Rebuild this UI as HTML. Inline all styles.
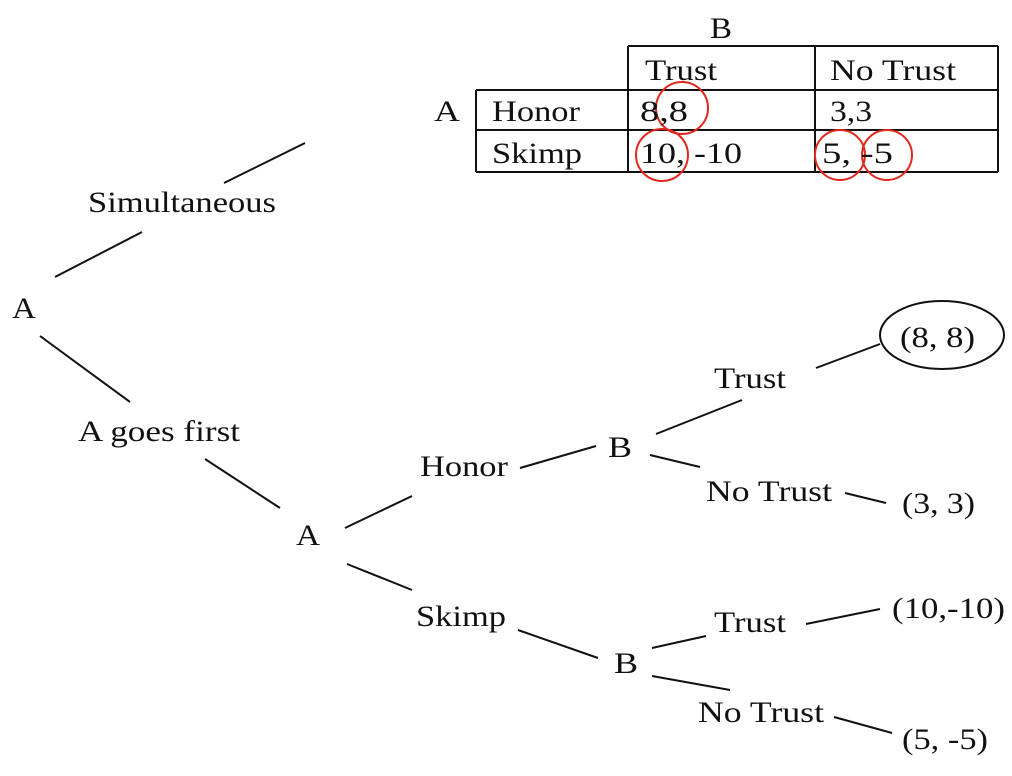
<!DOCTYPE html>
<html><head><style>body{margin:0;background:#fff}svg{display:block}</style></head><body>
<svg width="1012" height="776" xmlns="http://www.w3.org/2000/svg" font-family="Liberation Serif, serif" font-size="30" fill="#111">
<g stroke="#111" stroke-width="2" fill="none">
<line x1="628" y1="46" x2="998" y2="46"/>
<line x1="476" y1="90" x2="998" y2="90"/>
<line x1="476" y1="130" x2="998" y2="130"/>
<line x1="476" y1="172" x2="998" y2="172"/>
<line x1="476" y1="90" x2="476" y2="172"/>
<line x1="628" y1="46" x2="628" y2="172"/>
<line x1="815" y1="46" x2="815" y2="172"/>
<line x1="998" y1="46" x2="998" y2="172"/>
<line x1="224" y1="183" x2="305" y2="143"/>
<line x1="55" y1="277" x2="142" y2="232"/>
<line x1="40" y1="336" x2="130" y2="402"/>
<line x1="205" y1="459" x2="280" y2="508"/>
<line x1="345" y1="528" x2="412" y2="496"/>
<line x1="347" y1="564" x2="412" y2="590"/>
<line x1="520" y1="468" x2="596" y2="446"/>
<line x1="656" y1="434" x2="742" y2="400"/>
<line x1="650" y1="455" x2="700" y2="467"/>
<line x1="845" y1="493" x2="886" y2="503"/>
<line x1="816" y1="368" x2="880" y2="344"/>
<line x1="518" y1="630" x2="598" y2="658"/>
<line x1="652" y1="648" x2="706" y2="636"/>
<line x1="652" y1="676" x2="730" y2="690"/>
<line x1="806" y1="624" x2="880" y2="609"/>
<line x1="834" y1="717" x2="892" y2="733"/>
<ellipse cx="942" cy="335" rx="62" ry="34"/>
</g>
<g stroke="#e0281e" stroke-width="2" fill="none">
<circle cx="682" cy="108" r="26"/>
<circle cx="662" cy="155" r="26"/>
<circle cx="840" cy="155" r="25"/>
<circle cx="887" cy="155" r="25"/>
</g>
<g lengthAdjust="spacingAndGlyphs">
<text x="710" y="38" textLength="22" lengthAdjust="spacingAndGlyphs">B</text>
<text x="645" y="80" textLength="72" lengthAdjust="spacingAndGlyphs">Trust</text>
<text x="830" y="80" textLength="126" lengthAdjust="spacingAndGlyphs">No Trust</text>
<text x="434" y="121" textLength="26" lengthAdjust="spacingAndGlyphs">A</text>
<text x="492" y="121" textLength="88" lengthAdjust="spacingAndGlyphs">Honor</text>
<text x="640" y="121" textLength="48" lengthAdjust="spacingAndGlyphs">8,8</text>
<text x="830" y="121" textLength="42" lengthAdjust="spacingAndGlyphs">3,3</text>
<text x="492" y="163" textLength="90" lengthAdjust="spacingAndGlyphs">Skimp</text>
<text x="640" y="163" textLength="102" lengthAdjust="spacingAndGlyphs">10, -10</text>
<text x="822" y="163" textLength="71" lengthAdjust="spacingAndGlyphs">5, -5</text>
<text x="88" y="212" textLength="188" lengthAdjust="spacingAndGlyphs">Simultaneous</text>
<text x="12" y="318" textLength="24" lengthAdjust="spacingAndGlyphs">A</text>
<text x="78" y="441" textLength="162" lengthAdjust="spacingAndGlyphs">A goes first</text>
<text x="296" y="545" textLength="24" lengthAdjust="spacingAndGlyphs">A</text>
<text x="420" y="476" textLength="88" lengthAdjust="spacingAndGlyphs">Honor</text>
<text x="608" y="457" textLength="24" lengthAdjust="spacingAndGlyphs">B</text>
<text x="714" y="388" textLength="72" lengthAdjust="spacingAndGlyphs">Trust</text>
<text x="706" y="501" textLength="126" lengthAdjust="spacingAndGlyphs">No Trust</text>
<text x="900" y="347" textLength="75" lengthAdjust="spacingAndGlyphs">(8, 8)</text>
<text x="902" y="513" textLength="73" lengthAdjust="spacingAndGlyphs">(3, 3)</text>
<text x="416" y="626" textLength="90" lengthAdjust="spacingAndGlyphs">Skimp</text>
<text x="614" y="673" textLength="24" lengthAdjust="spacingAndGlyphs">B</text>
<text x="714" y="632" textLength="72" lengthAdjust="spacingAndGlyphs">Trust</text>
<text x="698" y="722" textLength="126" lengthAdjust="spacingAndGlyphs">No Trust</text>
<text x="892" y="618" textLength="113" lengthAdjust="spacingAndGlyphs">(10,-10)</text>
<text x="902" y="749" textLength="86" lengthAdjust="spacingAndGlyphs">(5, -5)</text>
</g>
</svg>
</body></html>
